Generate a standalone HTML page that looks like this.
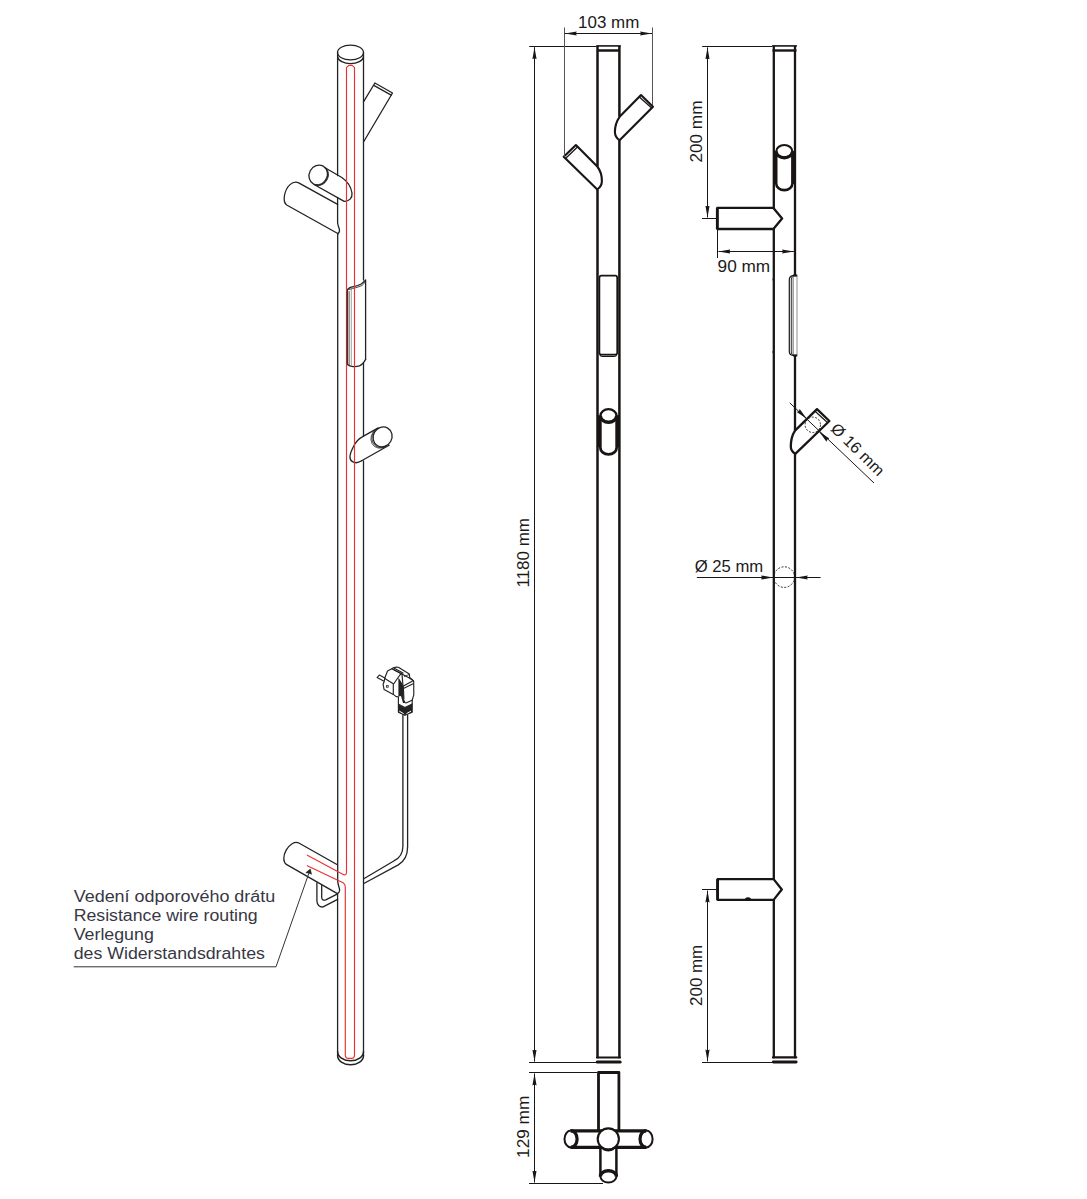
<!DOCTYPE html>
<html><head><meta charset="utf-8">
<style>
html,body{margin:0;padding:0;background:#fff;}
body{width:1087px;height:1199px;overflow:hidden;position:relative;}
svg{position:absolute;left:0;top:0;}
text{font-family:"Liberation Sans",sans-serif;}
</style></head>
<body>
<svg width="1087" height="1199" viewBox="0 0 1087 1199">
<defs>
  <marker id="ar" viewBox="0 0 12 5" refX="12" refY="2.5" markerWidth="12" markerHeight="5" markerUnits="userSpaceOnUse" orient="auto-start-reverse">
    <path d="M12,2.5 L0,0.4 L1,2.5 L0,4.6 Z" fill="#1a1616"/>
  </marker>
</defs>

<!-- ================= LEFT FIGURE ================= -->
<g id="left" fill="none" stroke="#222" stroke-width="1.3" stroke-linecap="round" stroke-linejoin="round">
  <!-- top cap -->
  <ellipse cx="350.5" cy="52.5" rx="13" ry="7.4"/>
  <path d="M337.6,56.8 A13,7.4 0 0 0 363.5,56.8"/>
  <!-- pole sides -->
  <path d="M337.6,52.5 V175.5 M337.6,197.5 V222.5 C337.8,226 339.6,228.5 339.5,230.6 C339.4,232.2 338.5,233.3 337.7,233.7 V881 C337.8,885 339.8,888 339.6,890.5 C339.4,892.3 338.3,893 337.6,893.3 V1056"/>
  <path d="M363.5,52.5 V280 M363.5,362.7 V436.1 M363.5,460.8 V1056"/>
  <!-- bottom cap -->
  <path d="M337.6,1051.5 A12.95,9.3 0 0 0 363.5,1051.5" stroke-width="1.5"/>
  <path d="M337.6,1055.8 A12.95,9 0 0 0 363.5,1055.8" stroke-width="1.5"/>

  <!-- top right hook -->
  <path d="M363.5,101.8 L374.9,83 L392.5,93 L363.5,142"/>
  <path d="M374.2,85.6 L391.2,95.1"/>

  <!-- big upper-left cylinder -->
  <path d="M337.6,204.4 L298.7,182.9 C293,180 286,186 284.4,196 C283.8,200 284.5,203.5 286.7,205 L338.2,233.7"/>
  <!-- small upper cylinder -->
  <ellipse cx="318.4" cy="175.1" rx="9.2" ry="10.2" transform="rotate(28 318.4 175.1)"/>
  <path d="M325.5,168 L341.8,177.5 C347,181 351,187 352,193 C352.6,198 349,201.6 344.2,201.4 L314.5,184.7"/>
  <path d="M324.7,167.4 A9.2,10.2 28 0 1 315.6,184.6" stroke-width="0.8"/>
  <path d="M326,168.1 A9.2,10.2 28 0 1 316.9,185.3" stroke-width="0.8"/>

  <!-- sleeve -->
  <path d="M347.1,364.5 V291 C347.3,289 349,288 350.3,287.4 C354,286.5 358,286 361.2,284 C363.8,282.2 365,280.5 365.6,280 V359.4"/>
  <path d="M347.5,364.5 C350,367 356,367 359.4,365.9 C362.5,364.6 364.5,361.5 365.6,359.4"/>
  <path d="M349.1,291.5 V364.6" stroke-width="0.8"/>
  <path d="M351.3,289 V365.5" stroke="#999" stroke-width="0.9"/>
  <path d="M349,289.5 C354,288 358,287.5 362,285.5 C364,284 365,282 365.4,281.5" stroke-width="0.8"/>

  <!-- lower hook -->
  <ellipse cx="382.6" cy="436.9" rx="9.3" ry="10.2" transform="rotate(30 382.6 436.9)"/>
  <path d="M363.5,436.1 L378.3,427.9 M361.6,460.8 L389.1,445.2"/>
  <path d="M363.5,436.1 C359,438.5 355.5,442 353.5,446.5 C350,453 348.5,459 352.1,461.4 C355,463.5 359,462.5 361.6,460.8"/>
  <path d="M377,428.6 A9.3,10.2 30 0 0 386.6,446" stroke-width="0.8"/>
  <path d="M376,429.2 A9.3,10.2 30 0 0 385.6,446.6" stroke-width="0.8"/>

  <!-- cable -->
  <path d="M402.9,715 V846.2 C402.9,852 401.5,857 394.2,860.7 L363.8,878.7"/>
  <path d="M407.6,715 V846.9 C407.6,856 404.5,861 398.3,864.9 L363.8,883.5"/>

  <!-- bottom hook -->
  <path d="M337.4,864.8 L298.4,842.8 A7.5,12.4 29.4 0 0 286.3,864.4 L337.4,893.6"/>
  <path d="M316.9,882.8 V901 C317,905 320,907.5 323.1,906.9 L337.6,899.4"/>
  <path d="M321.7,885.5 V897.5 C321.8,899.8 323.6,900.8 325.8,899.8 L337.6,893.8"/>

  <!-- plug -->
  <g stroke-width="1.15">
    <path d="M384.8,678.0 379.3,675.0 377.1,677.6 383.6,681.1"/>
    <path d="M387.5,671.0 391.8,668.8 393.3,667.8 396.2,667.1 398.4,667.3 409.3,674.1 409.7,677.5 413.1,680.4 413.7,681.4 413.8,694.9 412.2,700.2 412.2,712.3 404.9,715.2 398.4,712.3 398.4,696.8 396.2,696.6 393.3,694.4 384.1,689.6 383.1,684.3 384.1,681.8 384.8,678.0 Z"/>
    <path d="M384.8,678.4 393.3,683.8 393.3,694.4"/>
    <path d="M391.8,668.8 401.0,673.6 398.1,677.5 393.8,683.8"/>
    <path d="M393.3,669.3 402.0,674.1" stroke-dasharray="1.5 0.8"/>
    <path d="M394.3,668.3 403.0,673.1"/>
    <path d="M401.0,673.6 409.3,678.0 413.1,680.6"/>
    <path d="M402.0,674.1 403.0,686.2 403.4,688.6 403.9,698.8"/>
    <path d="M403.0,686.2 412.6,680.9 M403.4,688.6 413.1,683.8"/>
    <path d="M405.9,703.1 412.2,700.2"/>
    <path d="M399.1,704.6 404.9,707.5 412.2,704.1"/>
    <path d="M404.4,676.5 408.8,674.6" stroke-width="0.8"/>
  </g>
  <path d="M398.4,677.5 401.5,682.3 403.4,686.2 403.7,698.8 405.9,703.1 403.0,703.1 401.0,695.9 398.4,696.4 Z" fill="#222" stroke="none"/>
  <path d="M398.4,704.6 404.9,707.7 412.2,704.1 412.2,712.3 404.9,715.2 398.4,712.3 Z" fill="#222" stroke="none"/>
  <path d="M399.6,711.3 403.4,713.5 M406.8,713.5 410.7,711.3" stroke="#fff" stroke-width="1"/>
  <rect x="386.0" y="685.2" width="2.6" height="2.4" fill="#222" stroke="none"/>
  <rect x="386.8" y="685.9" width="1" height="0.9" fill="#fff" stroke="none"/>
</g>

<!-- red resistance wire -->
<path fill="none" stroke="#ee3030" stroke-width="1.15" stroke-linecap="round" stroke-linejoin="round"
  d="M307.3,855.2 L343.2,874.4 C345.3,875.5 346.5,874.5 346.5,872.5 V67.6 L348.8,65.3 H352.2 L354.5,67.6 V1055 Q354.5,1058.4 351.3,1058.4 H348.5 Q345.3,1058.4 345.3,1055 V887 C345.3,884.5 344.8,883.7 343.1,882.7 L307.3,865.7"/>

<path d="M347.2,291 V364" stroke="#222" stroke-width="0.9" fill="none"/>
<!-- label -->
<g fill="#383744" font-size="16">
  <text x="73.7" y="902.1" textLength="201.6" lengthAdjust="spacingAndGlyphs">Vedení odporového drátu</text>
  <text x="73.7" y="921" textLength="184" lengthAdjust="spacingAndGlyphs">Resistance wire routing</text>
  <text x="73.7" y="940" textLength="80.1" lengthAdjust="spacingAndGlyphs">Verlegung</text>
  <text x="73.7" y="959" textLength="191.2" lengthAdjust="spacingAndGlyphs">des Widerstandsdrahtes</text>
</g>
<path d="M73.7,966.8 H276 L309.3,872" fill="none" stroke="#333" stroke-width="1"/>
<path d="M310.3,869.1 L305.8,872.7 L308.9,873.1 L311.5,874.2 Z" fill="#222" stroke="#222" stroke-width="0.6" stroke-linejoin="round"/>

<!-- ================= MIDDLE FIGURE ================= -->
<g fill="none" stroke="#1a1515" stroke-width="2.5" stroke-linejoin="round">
  <path d="M596.3,45.9 H620.8" stroke-width="1.6"/>
  <path d="M597.5,50.5 H619.4"/>
  <path d="M597.5,45.9 V166.5 M597.5,189.4 V1058.3"/>
  <path d="M619.4,45.9 V116.8 M619.4,140.3 V1058.3"/>
  <path d="M597,1057.5 H620" stroke-width="2.2" stroke-linecap="round"/>
  <path d="M597.2,1062 H620.2" stroke-width="3" stroke-linecap="round"/>
  <!-- upper right hook -->
  <path d="M619.6,116.8 L641,95.1 L653,106.8 L619.6,140.3 C617.5,139 615,136 614.9,132 C614.9,127 617,120.5 619.6,116.8" stroke-width="2.1"/>
  <path d="M639.3,96.9 L651.7,108.1" stroke-width="1.3"/>
  <!-- lower left hook -->
  <path d="M597.3,166.5 L575.9,145.1 L563.7,156.8 L597.3,189.4 C599.5,188 601.9,185 601.9,181 C601.9,176 600,170 597.3,166.5" stroke-width="2.1"/>
  <path d="M577.7,146.8 L565.5,158.5" stroke-width="1.3"/>
  <!-- sleeve -->
  <path d="M601.5,275.7 H615.3 Q617.2,275.7 617.2,278 V352.8 Q617.2,354.6 615.3,354.6 H601.4 Q599.4,354.6 599.4,352.8 V278 Q599.4,275.7 601.5,275.7 Z" stroke-width="1.7"/>
  <path d="M599.8,354.8 Q600.5,356.4 602.5,356.4 H614 Q616,356.4 616.8,354.8" stroke-width="1.2"/>
  <!-- knob -->
  <ellipse cx="608.5" cy="415.5" rx="8" ry="6.3" stroke-width="2.3"/>
  <path d="M600.5,416 A8,6.3 0 0 0 616.5,416" stroke-width="3.2"/>
  <path d="M599.4,301 V448 M617.6,301 V448" stroke-width="1" stroke="none"/>
  <path d="M600.3,415.5 V447.5 A8.2,6.8 0 0 0 616.7,447.5 V415.5" stroke-width="2.8"/>
  <path d="M598.5,415 V447 M618.4,415 V447" stroke-width="1.6"/>
  <!-- bottom view -->
  <path d="M598.5,1130.2 V1072.5 H618.9 V1130.2" stroke-width="2.8"/>
  <path d="M570.6,1130.8 H646.2 M570.6,1147.4 H646.2" stroke-width="3.2"/>
  <ellipse cx="570.8" cy="1139" rx="6.3" ry="8.4" stroke-width="2"/>
  <path d="M570.8,1130.6 A6.3,8.4 0 0 1 570.8,1147.4" stroke-width="3.2"/>
  <ellipse cx="646.3" cy="1139" rx="6.3" ry="8.4" stroke-width="2"/>
  <path d="M646.3,1130.6 A6.3,8.4 0 0 0 646.3,1147.4" stroke-width="3.2"/>
  <path d="M600.4,1147.9 V1176.5 M616.4,1147.9 V1176.5"/>
  <circle cx="608.3" cy="1139" r="10.6" fill="#fff" stroke-width="2.1"/>
  <path d="M603,1148.6 A10.6,10.6 0 0 0 613.6,1148.6" stroke-width="2.8"/>
  <ellipse cx="608.4" cy="1176.6" rx="8" ry="5.9" fill="#fff" stroke-width="2"/>
  <path d="M600.4,1176.6 A8,5.9 0 0 1 616.4,1176.6" stroke-width="3.4"/>
</g>
<!-- middle dimensions -->
<g fill="none" stroke="#1a1616" stroke-width="1">
  <path d="M529.2,46.5 H596.5"/>
  <path d="M529,1062.5 H597"/>
  <path d="M534.5,47.2 V1061.6" marker-start="url(#ar)" marker-end="url(#ar)"/>
  <path d="M529,1072.5 H597"/>
  <path d="M529,1183.5 H603"/>
  <path d="M534.5,1073.5 V1182.5" marker-start="url(#ar)" marker-end="url(#ar)"/>
  <path d="M564.5,27.5 V156.8 M652.5,27.5 V105" stroke="#555"/>
  <path d="M564.8,33.5 H652" marker-start="url(#ar)" marker-end="url(#ar)"/>
</g>
<g fill="#1a1a1a" font-size="16">
  <text x="578.1" y="27.5" textLength="61.2" lengthAdjust="spacingAndGlyphs">103 mm</text>
  <text transform="translate(529.4,587.6) rotate(-90)" textLength="69.6" lengthAdjust="spacingAndGlyphs">1180 mm</text>
  <text transform="translate(528.9,1157.9) rotate(-90)" textLength="62.2" lengthAdjust="spacingAndGlyphs">129 mm</text>
</g>

<!-- ================= RIGHT FIGURE ================= -->
<g fill="none" stroke="#1a1515" stroke-width="2.3" stroke-linejoin="round">
  <path d="M772.1,45.9 H796.9" stroke-width="1.6"/>
  <path d="M772.5,50.5 H796.5" stroke-width="2.4"/>
  <path d="M773.8,45.9 V207.9 M773.8,229 V879.1 M773.8,899.9 V1058.3"/>
  <path d="M795,45.9 V275.5 M795,355.5 V430.6 M795,453.8 V1058.3"/>
  <path d="M773,1057.4 H796.2" stroke-width="2.3" stroke-linecap="round"/>
  <path d="M773.3,1062 H796.2" stroke-width="2.8" stroke-linecap="round"/>
  <!-- knob -->
  <ellipse cx="784.3" cy="151.2" rx="8" ry="6.2" stroke-width="2.2"/>
  <path d="M776.3,151.7 A8,6.2 0 0 0 792.3,151.7" stroke-width="3.2"/>
  <path d="M776.2,151.2 V183.5 A8.1,6.6 0 0 0 792.4,183.5 V151.2" stroke-width="2.6"/>
  <path d="M774.9,151 V184 M793.8,151 V184" stroke-width="1.6"/>
  <!-- upper hook -->
  <path d="M773.4,207.9 H717.3 V229 H773.4 L782.1,218.5 Z"/>
  <path d="M717.3,207.9 V229" stroke-width="2.8"/>
  <!-- sleeve -->
  <path d="M796.5,275.6 H793 Q789.3,276.2 789.3,280 V351.5 Q789.3,355 793,355.4 H796.5" stroke-width="1.2"/>
  <path d="M792.5,276.5 Q791.3,277.5 791.3,280 V352 Q791.3,354.5 792.8,354.8" stroke-width="0.9"/>
  <path d="M793.1,276 V355" stroke-width="0.9" stroke="#555"/>
  <path d="M797,276 V355" stroke="#999" stroke-width="1.1"/>
  <path d="M793,275.6 H797.3 M793,355.4 H797.3" stroke-width="2"/>
  <path d="M773.8,279.5 h-1.2 M773.8,352 h-1.2" stroke-width="2"/>
  <!-- 16mm hook -->
  <path d="M795,430.6 L817,409.1 L829.4,421 L795.3,453.8 C793,452.5 790.8,450 790.8,446.5 C790.8,441 792.5,434.5 795,430.6"/>
  <path d="M814.8,411 L827.7,422.7" stroke-width="1.2"/>
  <!-- lower hook -->
  <path d="M773.6,879.1 H717.6 V899.9 H773.6 L781.8,889.5 Z"/>
  <path d="M717.6,879.1 V899.9" stroke-width="2.8"/>
  <path d="M745.5,899.5 Q748,897.3 750.5,899.5" stroke-width="2"/>
</g>
<g fill="none" stroke="#1a1616" stroke-width="1">
  <path d="M702.2,46.5 H772"/>
  <path d="M707.5,47.4 V217.5" marker-start="url(#ar)" marker-end="url(#ar)"/>
  <path d="M702,218.5 H716.2"/>
  <path d="M717.5,229 V258"/>
  <path d="M718.4,251.5 H793.9" marker-start="url(#ar)" marker-end="url(#ar)"/>
  <path d="M789.7,402.8 L874,483"/>
  <path d="M803.5,415.6 L806.8,418.8" marker-end="url(#ar)"/>
  <path d="M822,434.4 L819.3,431.8" marker-end="url(#ar)"/>
  <circle cx="812.8" cy="424.8" r="7.7" stroke-dasharray="2 1.5" stroke-width="0.9"/>
  <path d="M696.9,577.5 H820.6"/>
  <path d="M760,577.5 H773" marker-end="url(#ar)"/>
  <path d="M808,577.5 H795.8" marker-end="url(#ar)"/>
  <circle cx="784.2" cy="577.1" r="10.3" stroke-dasharray="2 1.5" stroke-width="0.9"/>
  <path d="M702,889.5 H717.6"/>
  <path d="M707.5,890.6 V1061.4" marker-start="url(#ar)" marker-end="url(#ar)"/>
  <path d="M702,1062.5 H773"/>
</g>
<g fill="#1a1a1a" font-size="16">
  <text transform="translate(702.3,162.5) rotate(-90)" textLength="61.9" lengthAdjust="spacingAndGlyphs">200 mm</text>
  <text x="717.6" y="272.3" textLength="52.6" lengthAdjust="spacingAndGlyphs">90 mm</text>
  <text x="694.7" y="571.6" textLength="68.5" lengthAdjust="spacingAndGlyphs">Ø 25 mm</text>
  <text transform="translate(702.4,1005.9) rotate(-90)" textLength="61.1" lengthAdjust="spacingAndGlyphs">200 mm</text>
  <text transform="translate(829.8,429.8) rotate(44.3)" textLength="67.5" lengthAdjust="spacingAndGlyphs">Ø 16 mm</text>
</g>
</svg>
</body></html>
